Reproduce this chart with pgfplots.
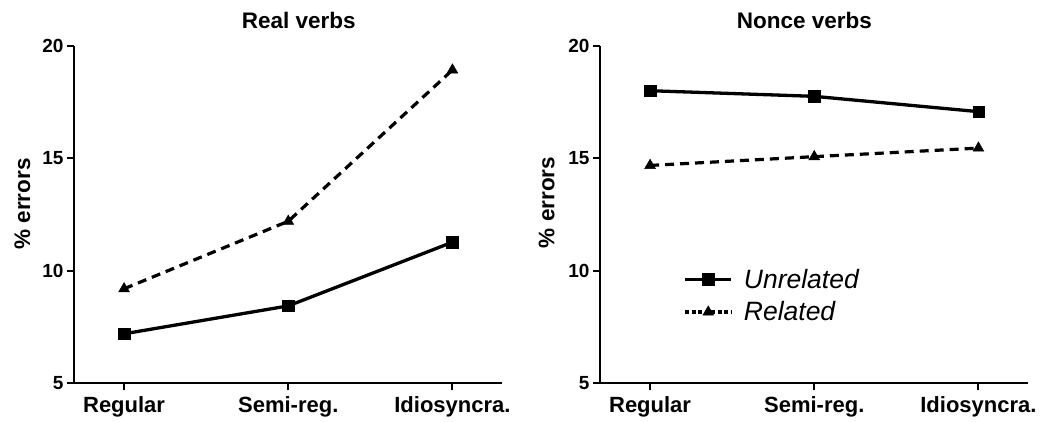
\documentclass[border=0pt]{standalone}
\usepackage{pgfplots}
\pgfplotsset{compat=1.18}
\usepackage{fontspec}
\setmainfont{Liberation Sans}
\begin{document}
\begin{tikzpicture}
\useasboundingbox (0pt,0pt) rectangle (1053pt,421pt);
\pgfplotsset{
 myax/.style={
  scale only axis, width=427.7pt, height=337.6pt,
  xmin=-0.305, xmax=2.30, ymin=5, ymax=20,
  axis x line*=bottom, axis y line*=left,
  axis line style={line width=2pt, -},
  xtick={0,1,2}, xticklabels={Regular,Semi-reg.,Idiosyncra.},
  ytick={5,10,15,20},
  tick align=outside, major tick length=7pt,
  tick style={line width=2pt, black},
  /pgf/number format/assume math mode=true,
  x tick label style={font=\fontsize{22}{25}\selectfont\bfseries, yshift=-3pt},
  y tick label style={font=\fontsize{19}{22}\selectfont\bfseries},
  clip=false,
 },
 unrel/.style={black, line width=3.3pt, mark=square*, mark size=5.7pt, mark options={solid, line width=0.5pt}},
 rel/.style={black, line width=3.2pt, dash pattern=on 9pt off 6pt, mark=triangle*, mark size=6.2pt, mark options={solid, line width=0.5pt}},
}
\begin{axis}[myax, at={(74pt,37.7pt)}, anchor=south west]
\addplot[unrel] coordinates {(0,7.2) (1,8.44) (2,11.27)};
\addplot[rel] coordinates {(0,9.2) (1,12.2) (2,18.92)};
\end{axis}
\begin{axis}[myax, at={(600pt,37.7pt)}, anchor=south west,
  legend style={at={(0.195,0.345)}, anchor=north west, draw=none, fill=none, inner sep=0pt,
    font=\fontsize{26.5}{32}\selectfont\itshape, row sep=8pt, column sep=9pt},
  legend cell align=left,
  legend image code/.code={\draw[#1] plot coordinates {(0pt,0pt) (23pt,0pt) (46pt,0pt)};},
]
\addplot[unrel, forget plot] coordinates {(0,18.0) (1,17.75) (2,17.07)};
\addplot[rel, forget plot] coordinates {(0,14.68) (1,15.07) (2,15.45)};
\addlegendimage{unrel, mark repeat=2, mark phase=2}
\addlegendentry{Unrelated}
\addlegendimage{rel, dash pattern=on 4pt off 2.5pt, mark repeat=2, mark phase=2}
\addlegendentry{Related}
\end{axis}
\node[font=\fontsize{22.5}{26}\selectfont\bfseries, anchor=base] at (298.7pt,392.7pt) {Real verbs};
\node[font=\fontsize{22.5}{26}\selectfont\bfseries, anchor=base] at (804.5pt,392.7pt) {Nonce verbs};
\node[font=\fontsize{22.5}{26}\selectfont\bfseries, rotate=90] at (22.5pt,217pt) {\% errors};
\node[font=\fontsize{22.5}{26}\selectfont\bfseries, rotate=90] at (546.7pt,218.5pt) {\% errors};
\end{tikzpicture}
\end{document}
